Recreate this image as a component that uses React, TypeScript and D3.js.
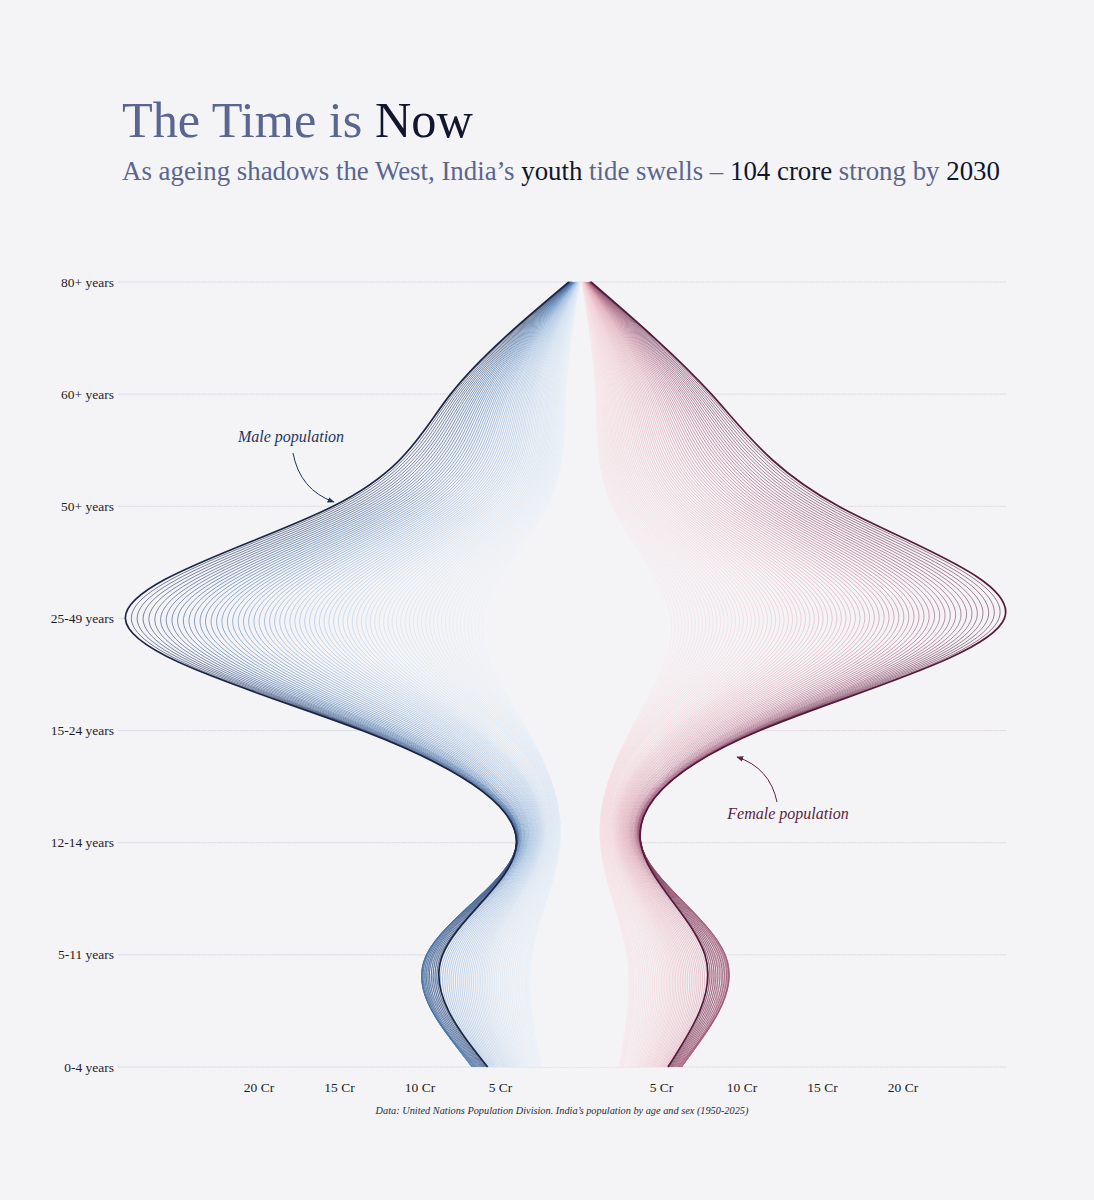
import React, { useEffect } from "react";
import * as d3 from "d3";

// ---------- DATA (crore) ----------
const AGES = ["80+ years", "60+ years", "50+ years", "25-49 years", "15-24 years", "12-14 years", "5-11 years", "0-4 years"];
const FIRST_YEAR = 1950;
const X_TICKS = [5, 10, 15, 20];

const M80 = [0.070,0.074,0.078,0.082,0.086,0.090,0.094,0.098,0.102,0.106,0.110,0.114,0.118,0.122,0.126,0.130,0.136,0.142,0.148,0.154,0.160,0.166,0.172,0.178,0.184,0.190,0.196,0.202,0.208,0.214,0.220,0.228,0.236,0.244,0.252,0.260,0.268,0.276,0.284,0.292,0.300,0.308,0.316,0.324,0.332,0.340,0.350,0.360,0.370,0.380,0.390,0.400,0.410,0.420,0.430,0.440,0.452,0.464,0.476,0.488,0.500,0.514,0.528,0.542,0.556,0.570,0.586,0.602,0.618,0.634,0.650,0.670,0.690,0.710,0.730,0.750];
const M60 = [0.95,1.00,1.05,1.10,1.15,1.20,1.26,1.31,1.37,1.42,1.48,1.54,1.61,1.67,1.74,1.80,1.87,1.94,2.00,2.07,2.14,2.22,2.29,2.37,2.44,2.52,2.60,2.69,2.77,2.86,2.94,3.03,3.12,3.20,3.29,3.38,3.48,3.57,3.67,3.76,3.86,3.96,4.06,4.17,4.27,4.37,4.48,4.59,4.69,4.80,4.91,5.02,5.14,5.25,5.37,5.48,5.60,5.72,5.85,5.97,6.09,6.22,6.35,6.47,6.60,6.73,6.86,7.00,7.13,7.27,7.40,7.54,7.68,7.82,7.96,8.10];
const M50 = [2.10,2.19,2.28,2.37,2.46,2.55,2.65,2.75,2.86,2.96,3.06,3.18,3.29,3.41,3.52,3.64,3.77,3.89,4.02,4.14,4.27,4.41,4.55,4.69,4.83,4.97,5.12,5.28,5.43,5.59,5.74,5.90,6.07,6.23,6.40,6.56,6.74,6.92,7.09,7.27,7.45,7.64,7.83,8.02,8.21,8.40,8.60,8.81,9.01,9.21,9.41,9.63,9.84,10.06,10.27,10.49,10.72,10.94,11.17,11.39,11.62,11.86,12.10,12.34,12.58,12.82,13.07,13.32,13.58,13.83,14.08,14.34,14.61,14.87,15.14,15.40];
const M25 = [6.10,6.33,6.55,6.78,7.00,7.23,7.47,7.70,7.94,8.17,8.41,8.66,8.90,9.15,9.39,9.64,9.90,10.15,10.41,10.66,10.92,11.19,11.45,11.72,11.98,12.25,12.53,12.80,13.08,13.35,13.63,13.92,14.20,14.49,14.77,15.06,15.36,15.65,15.95,16.24,16.54,16.85,17.15,17.46,17.76,18.07,18.39,18.70,19.02,19.33,19.65,19.98,20.30,20.63,20.95,21.28,21.62,21.95,22.29,22.62,22.96,23.31,23.65,24.00,24.34,24.69,25.05,25.40,25.76,26.11,26.47,26.84,27.20,27.57,27.93,28.30];
const M15 = [3.30,3.35,3.40,3.45,3.50,3.55,3.61,3.67,3.73,3.79,3.85,3.94,4.03,4.12,4.21,4.30,4.41,4.52,4.63,4.74,4.85,5.00,5.15,5.30,5.45,5.60,5.76,5.92,6.08,6.24,6.40,6.54,6.68,6.82,6.96,7.10,7.26,7.42,7.58,7.74,7.90,8.08,8.26,8.44,8.62,8.80,9.00,9.20,9.40,9.60,9.80,10.02,10.24,10.46,10.68,10.90,11.10,11.30,11.50,11.70,11.90,12.06,12.22,12.38,12.54,12.70,12.82,12.94,13.06,13.18,13.30,13.36,13.42,13.48,13.54,13.60];
const M12 = [1.30,1.31,1.32,1.34,1.35,1.36,1.39,1.42,1.44,1.47,1.50,1.54,1.59,1.63,1.68,1.72,1.78,1.83,1.89,1.94,2.00,2.06,2.11,2.17,2.22,2.28,2.33,2.38,2.42,2.47,2.52,2.56,2.61,2.65,2.70,2.74,2.79,2.84,2.88,2.93,2.98,3.03,3.08,3.12,3.17,3.22,3.27,3.32,3.36,3.41,3.46,3.51,3.56,3.60,3.65,3.70,3.74,3.77,3.81,3.84,3.88,3.90,3.92,3.93,3.95,3.96,3.97,3.98,3.99,4.00,4.01,4.02,4.02,4.01,4.01,4.00];
const M5 = [3.05,3.11,3.17,3.23,3.29,3.35,3.45,3.55,3.65,3.75,3.85,3.97,4.09,4.21,4.33,4.45,4.57,4.69,4.81,4.93,5.05,5.16,5.27,5.38,5.49,5.60,5.70,5.80,5.90,6.00,6.10,6.21,6.32,6.43,6.54,6.65,6.77,6.89,7.01,7.13,7.25,7.38,7.51,7.64,7.77,7.90,8.03,8.16,8.29,8.42,8.55,8.66,8.77,8.88,8.99,9.10,9.18,9.26,9.34,9.42,9.50,9.54,9.58,9.60,9.61,9.60,9.52,9.43,9.34,9.24,9.15,9.04,8.93,8.82,8.71,8.60];
const M0 = [2.45,2.52,2.59,2.66,2.73,2.80,2.90,3.00,3.10,3.20,3.30,3.39,3.48,3.57,3.66,3.75,3.83,3.91,3.99,4.07,4.15,4.22,4.29,4.36,4.43,4.50,4.57,4.64,4.71,4.78,4.85,4.94,5.03,5.12,5.21,5.30,5.38,5.46,5.54,5.62,5.70,5.77,5.84,5.91,5.98,6.05,6.12,6.19,6.26,6.33,6.40,6.47,6.54,6.61,6.68,6.75,6.78,6.78,6.76,6.73,6.70,6.65,6.60,6.55,6.50,6.45,6.38,6.31,6.24,6.17,6.10,6.04,5.98,5.92,5.86,5.80];

const F80 = [0.060,0.064,0.068,0.072,0.076,0.080,0.084,0.088,0.092,0.096,0.100,0.104,0.108,0.112,0.116,0.120,0.124,0.128,0.132,0.136,0.140,0.146,0.152,0.158,0.164,0.170,0.176,0.182,0.188,0.194,0.200,0.206,0.212,0.218,0.224,0.230,0.238,0.246,0.254,0.262,0.270,0.278,0.286,0.294,0.302,0.310,0.318,0.326,0.334,0.342,0.350,0.360,0.370,0.380,0.390,0.400,0.410,0.420,0.430,0.440,0.450,0.462,0.474,0.486,0.498,0.510,0.522,0.534,0.546,0.558,0.570,0.580,0.590,0.600,0.610,0.620];
const F60 = [0.92,0.97,1.02,1.07,1.12,1.17,1.23,1.28,1.34,1.39,1.45,1.51,1.58,1.64,1.71,1.77,1.84,1.91,1.98,2.05,2.12,2.20,2.27,2.35,2.42,2.50,2.58,2.67,2.75,2.84,2.92,3.01,3.10,3.18,3.27,3.36,3.46,3.55,3.65,3.74,3.84,3.94,4.04,4.15,4.25,4.35,4.46,4.57,4.67,4.78,4.89,5.01,5.12,5.24,5.35,5.47,5.59,5.71,5.84,5.96,6.08,6.21,6.34,6.46,6.59,6.72,6.85,6.99,7.12,7.26,7.39,7.53,7.67,7.82,7.96,8.10];
const F50 = [1.95,2.04,2.13,2.22,2.31,2.40,2.50,2.61,2.71,2.82,2.92,3.04,3.16,3.27,3.39,3.51,3.64,3.77,3.91,4.04,4.17,4.31,4.46,4.60,4.75,4.89,5.05,5.21,5.37,5.53,5.69,5.86,6.04,6.21,6.39,6.56,6.75,6.94,7.12,7.31,7.50,7.70,7.90,8.10,8.30,8.50,8.72,8.93,9.15,9.36,9.58,9.81,10.04,10.26,10.49,10.72,10.96,11.21,11.45,11.70,11.94,12.20,12.45,12.71,12.96,13.22,13.49,13.76,14.04,14.31,14.58,14.86,15.15,15.43,15.72,16.00];
const F25 = [5.60,5.81,6.02,6.23,6.44,6.65,6.87,7.09,7.31,7.53,7.75,7.98,8.21,8.43,8.66,8.89,9.13,9.37,9.60,9.84,10.08,10.33,10.58,10.82,11.07,11.32,11.58,11.84,12.09,12.35,12.61,12.88,13.14,13.41,13.67,13.94,14.22,14.49,14.77,15.04,15.32,15.60,15.89,16.17,16.46,16.74,17.04,17.33,17.63,17.92,18.22,18.52,18.83,19.13,19.44,19.74,20.05,20.36,20.68,20.99,21.30,21.62,21.95,22.27,22.60,22.92,23.25,23.58,23.92,24.25,24.58,24.92,25.27,25.61,25.96,26.30];
const F15 = [3.05,3.10,3.14,3.19,3.23,3.28,3.33,3.39,3.44,3.50,3.55,3.63,3.71,3.79,3.87,3.95,4.04,4.13,4.22,4.31,4.40,4.52,4.65,4.77,4.90,5.02,5.15,5.28,5.42,5.55,5.68,5.80,5.92,6.04,6.16,6.28,6.41,6.54,6.66,6.79,6.92,7.06,7.20,7.34,7.48,7.62,7.78,7.93,8.09,8.24,8.40,8.57,8.74,8.91,9.08,9.25,9.40,9.54,9.69,9.83,9.98,10.09,10.21,10.32,10.44,10.55,10.62,10.70,10.77,10.85,10.92,10.96,10.99,11.03,11.06,11.10];
const F12 = [1.20,1.21,1.22,1.24,1.25,1.26,1.29,1.31,1.34,1.36,1.39,1.43,1.47,1.52,1.56,1.60,1.65,1.70,1.76,1.81,1.86,1.91,1.96,2.02,2.07,2.12,2.16,2.21,2.25,2.30,2.34,2.38,2.42,2.47,2.51,2.55,2.59,2.64,2.68,2.73,2.77,2.81,2.86,2.90,2.95,2.99,3.03,3.08,3.12,3.17,3.21,3.25,3.30,3.34,3.39,3.43,3.46,3.49,3.53,3.56,3.59,3.61,3.62,3.64,3.65,3.67,3.68,3.69,3.70,3.71,3.71,3.72,3.72,3.71,3.71,3.70];
const F5 = [2.85,2.90,2.96,3.01,3.07,3.12,3.21,3.30,3.40,3.49,3.58,3.69,3.80,3.92,4.03,4.14,4.25,4.36,4.48,4.59,4.70,4.80,4.90,5.00,5.10,5.20,5.29,5.38,5.48,5.57,5.66,5.76,5.86,5.96,6.06,6.16,6.27,6.38,6.50,6.61,6.72,6.84,6.95,7.07,7.18,7.30,7.42,7.55,7.67,7.80,7.92,8.03,8.13,8.24,8.34,8.45,8.53,8.61,8.69,8.77,8.85,8.89,8.93,8.96,8.97,8.95,8.82,8.69,8.56,8.43,8.30,8.18,8.06,7.94,7.82,7.70];
const F0 = [2.35,2.41,2.47,2.53,2.59,2.65,2.74,2.84,2.93,3.03,3.12,3.21,3.29,3.38,3.46,3.55,3.62,3.70,3.77,3.85,3.92,3.99,4.05,4.12,4.18,4.25,4.32,4.38,4.45,4.51,4.58,4.66,4.74,4.82,4.90,4.98,5.05,5.12,5.19,5.26,5.33,5.39,5.45,5.50,5.56,5.62,5.68,5.74,5.80,5.86,5.92,5.98,6.04,6.10,6.16,6.22,6.25,6.26,6.25,6.24,6.22,6.18,6.13,6.09,6.04,6.00,5.94,5.87,5.81,5.74,5.68,5.62,5.57,5.51,5.46,5.40];

const MALE = [M80, M60, M50, M25, M15, M12, M5, M0];
const FEMALE = [F80, F60, F50, F25, F15, F12, F5, F0];

// title / subtitle segments: [text, colour key]
const TITLE = [["The Time is ", "soft"], ["Now", "dark"]];
const SUBTITLE = [
  ["As ageing shadows the West, India’s ", "soft"],
  ["youth", "dark"],
  [" tide swells – ", "soft"],
  ["104 crore", "dark"],
  [" strong by ", "soft"],
  ["2030", "dark"],
];

const SERIF = "'Liberation Serif', 'DejaVu Serif', serif";
const BG = "#f4f4f6";
const COLORS: Record<string, string> = { soft: "#59668f", dark: "#12152e" };

export default function App() {
  useEffect(() => {
    document.body.style.margin = "0";
    document.body.style.background = BG;
  }, []);

  const W = 1094, H = 1200;
  const cx = 581;
  const nYears = M25.length;
  const years = d3.range(nYears).map((i) => FIRST_YEAR + i);
  const last = years[nYears - 1];

  const y = d3.scalePoint<string>().domain(AGES).range([282, 1067]);
  const xM = d3.scaleLinear().domain([0, 20]).range([cx, cx - 322]);
  const xF = d3.scaleLinear().domain([0, 20]).range([cx, cx + 322]);

  const colM = d3.scaleLinear<string>()
    .domain([1950, 1975, 1995, 2012, 2024])
    .range(["#e9f0f8", "#cfdff0", "#9dbbdf", "#4d78ae", "#36466d"])
    .interpolate(d3.interpolateRgb);
  const colF = d3.scaleLinear<string>()
    .domain([1950, 1975, 1995, 2012, 2024])
    .range(["#f8e6ea", "#f2cfd6", "#e0a9b7", "#a8637f", "#6d3957"])
    .interpolate(d3.interpolateRgb);

  const line = d3.line<[number, number]>().x((d) => d[0]).y((d) => d[1]).curve(d3.curveNatural);

  const pts = (series: number[][], xs: d3.ScaleLinear<number, number>, yi: number): [number, number][] =>
    AGES.map((a, k) => [xs(series[k][yi]), y(a) as number]);

  const mPaths = years.map((yr, i) => line(pts(MALE, xM, i)) as string);
  const fPaths = years.map((yr, i) => line(pts(FEMALE, xF, i)) as string);
  const closeTail = ` L${cx},${y(AGES[AGES.length - 1])} L${cx},${y(AGES[0])} Z`;

  return (
    <svg width={W} height={H} style={{ position: "absolute", left: 0, top: 0, display: "block" }} fontFamily={SERIF}>
      <defs>
        <marker id="arrM" viewBox="0 0 10 10" refX="9" refY="5" markerWidth="7" markerHeight="7" orient="auto-start-reverse">
          <path d="M0,1 L10,5 L0,9 Z" fill="#1e3560" />
        </marker>
        <marker id="arrF" viewBox="0 0 10 10" refX="9" refY="5" markerWidth="7" markerHeight="7" orient="auto-start-reverse">
          <path d="M0,1 L10,5 L0,9 Z" fill="#5b2340" />
        </marker>
      </defs>
      <rect width={W} height={H} fill={BG} />

      {/* Title */}
      <text x={122} y={137} fontSize={50.3} style={{ whiteSpace: "pre" }}>
        {TITLE.map(([t, c], i) => <tspan key={"ti" + i} fill={COLORS[c]}>{t}</tspan>)}
      </text>
      <text x={122} y={180} fontSize={26.85} style={{ whiteSpace: "pre" }}>
        {SUBTITLE.map(([t, c], i) => <tspan key={"st" + i} fill={COLORS[c]}>{t}</tspan>)}
      </text>

      {/* Gridlines */}
      {AGES.map((a) => (
        <g key={a}>
          <line x1={118} x2={cx} y1={y(a)} y2={y(a)} stroke="#cdd2de" strokeWidth={0.9} strokeDasharray="1.5 0.8" />
          <line x1={cx} x2={1006} y1={y(a)} y2={y(a)} stroke="#dccfd7" strokeWidth={0.9} strokeDasharray="1.5 0.8" />
          <text x={114} y={(y(a) as number) + 4.5} fontSize={13.5} textAnchor="end" fill="#1c1c28">{a}</text>
        </g>
      ))}

      {/* area masks hiding gridlines */}
      {mPaths.map((p, i) => <path key={"mb" + i} d={p + closeTail} fill={BG} stroke="none" />)}
      {fPaths.map((p, i) => <path key={"fb" + i} d={p + closeTail} fill={BG} stroke="none" />)}
      {mPaths.map((p, i) => <path key={"mw" + i} d={p + closeTail} fill="#ffffff" fillOpacity={0.035} stroke="none" />)}
      {fPaths.map((p, i) => <path key={"fw" + i} d={p + closeTail} fill="#ffffff" fillOpacity={0.035} stroke="none" />)}

      {/* yearly lines */}
      {years.map((yr, i) =>
        yr === last ? null : (
          <path key={"m" + yr} d={mPaths[i]} fill="none" stroke={colM(yr)} strokeWidth={0.75} strokeOpacity={0.9} />
        )
      )}
      {years.map((yr, i) =>
        yr === last ? null : (
          <path key={"f" + yr} d={fPaths[i]} fill="none" stroke={colF(yr)} strokeWidth={0.75} strokeOpacity={0.9} />
        )
      )}
      <path d={mPaths[nYears - 1]} fill="none" stroke="#1b2647" strokeWidth={1.7} />
      <path d={fPaths[nYears - 1]} fill="none" stroke="#551b3b" strokeWidth={1.7} />

      {/* x ticks */}
      {X_TICKS.map((t) => (
        <g key={"t" + t}>
          <text x={xM(t)} y={1091.5} fontSize={13.5} textAnchor="middle" fill="#1c1c28">{t} Cr</text>
          <text x={xF(t)} y={1091.5} fontSize={13.5} textAnchor="middle" fill="#1c1c28">{t} Cr</text>
        </g>
      ))}

      <text x={562} y={1114} fontSize={10.3} fontStyle="italic" textAnchor="middle" fill="#2a2a38">
        Data: United Nations Population Division. India’s population by age and sex (1950-2025)
      </text>

      {/* annotations */}
      <text x={291} y={442} fontSize={16} fontStyle="italic" textAnchor="middle" fill="#1e3560">Male population</text>
      <path d="M293,453 Q300,490 334,502" fill="none" stroke="#1e3560" strokeWidth={1} markerEnd="url(#arrM)" />
      <text x={788} y={819} fontSize={16} fontStyle="italic" textAnchor="middle" fill="#5b2340">Female population</text>
      <path d="M777,802 Q770,768 737,757" fill="none" stroke="#5b2340" strokeWidth={1} markerEnd="url(#arrF)" />
    </svg>
  );
}
